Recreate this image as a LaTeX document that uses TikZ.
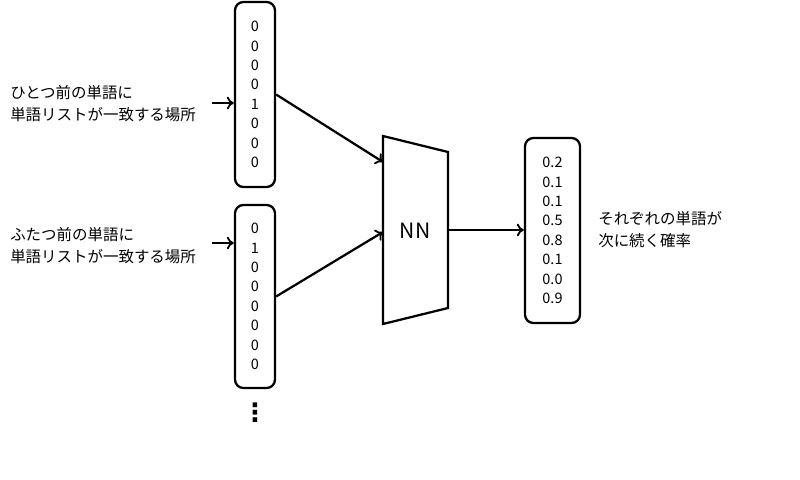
\documentclass[tikz,border=0pt]{standalone}
\usepackage{fontspec}
\setmainfont{Noto Sans CJK JP}
\newfontfamily\symfont{DejaVu Sans}
\usetikzlibrary{positioning, calc, arrows.meta}

\begin{document}
\begin{tikzpicture}[x=0.025cm, y=-0.025cm,
  vec/.style={draw, rounded corners=6pt, line width=1.6pt, minimum width=1cm, align=center, inner sep=0pt, font=\fontsize{10.3}{13.8}\selectfont},
  lab/.style={align=left, anchor=west, inner sep=0pt, font=\fontsize{11}{15.6}\selectfont},
  arrow/.style={-{To[length=5pt, width=9pt, line width=1.3pt]}, line width=1.6pt}
]
  \useasboundingbox (0,0) rectangle (800,479);

  % input vectors
  \node[vec, minimum height=4.625cm] (vec1) at (255,94.5) {0\\0\\0\\0\\1\\0\\0\\0};
  \node[vec, minimum height=4.575cm] (vec2) at (255,296.5) {0\\1\\0\\0\\0\\0\\0\\0};
  \node[font=\symfont\fontsize{18}{18}\selectfont\bfseries] (dots) at (255,413) {⋮};

  \node[lab] (lab1) at (10,104) {ひとつ前の単語に\\単語リストが一致する場所};
  \node[lab] (lab2) at (10,246) {ふたつ前の単語に\\単語リストが一致する場所};
  \coordinate (p1) at (212,103);
  \coordinate (p2) at (212,243);
  \draw[arrow] (p1) -- (vec1.west |- p1);
  \draw[arrow] (p2) -- (vec2.west |- p2);

  % network
  \coordinate (tl) at (383,136);
  \coordinate (bl) at (383,324);
  \coordinate (tr) at (448,152);
  \coordinate (br) at (448,308);
  \draw[line width=1.6pt] (tl) -- (tr) -- (br) -- (bl) -- cycle;
  \node[font=\fontsize{15}{18}\selectfont] (nn) at (415,231) {NN};
  \coordinate (in1) at (383,162);
  \coordinate (in2) at (383,232);
  \coordinate (nnout) at (448,230);

  \draw[arrow] (vec1.east) -- (in1);
  \draw[arrow] (vec2.east) -- (in2);

  % output
  \node[vec, minimum width=1.375cm, minimum height=4.625cm] (out) at (552.5,230.5) {0.2\\0.1\\0.1\\0.5\\0.8\\0.1\\0.0\\0.9};
  \draw[arrow] (nnout) -- (out.west |- nnout);
  \node[lab] (lab3) at (598,230) {それぞれの単語が\\次に続く確率};
\end{tikzpicture}
\end{document}
